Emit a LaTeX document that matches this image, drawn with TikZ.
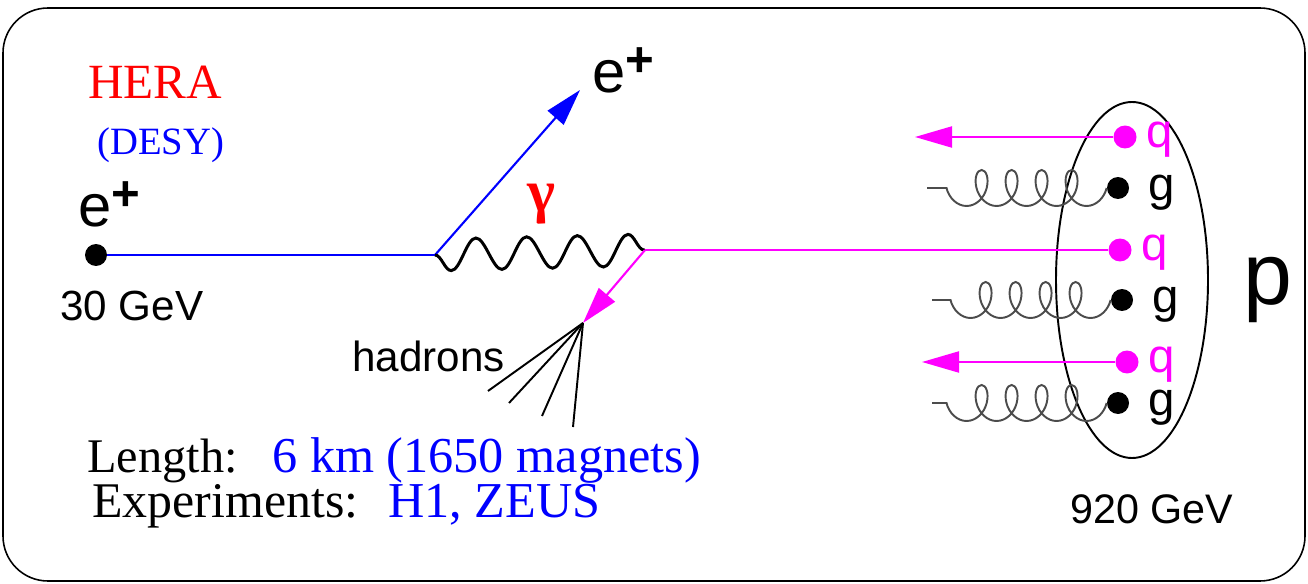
\documentclass[tikz,border=0pt]{standalone}
\usepackage{fontspec}
\setmainfont{Liberation Serif}
\setsansfont{Liberation Sans}
\usetikzlibrary{arrows.meta,decorations.pathmorphing}

\definecolor{quark}{RGB}{255,0,255}
\definecolor{lepton}{RGB}{0,0,255}
\newcommand{\fsz}[1]{\fontsize{#1}{#1}\selectfont}
\newcommand{\eplus}{e\raisebox{9.5pt}{\bfseries\fsz{28}+}}

\tikzset{
  txt/.style={inner sep=0pt, anchor=base west},
  sans/.style={txt, font=\sffamily\fsz{24}},
  parton/.style={inner sep=0pt, anchor=base west, font=\sffamily\fsz{27}},
  dotq/.style={circle, fill=quark, inner sep=0pt, minimum size=0.46cm},
  dotg/.style={circle, fill=black, inner sep=0pt, minimum size=0.44cm},
  bigtip/.style={-{Triangle[length=0.74cm,width=0.42cm]}},
  photon/.style={line width=1.7pt, decorate,
    decoration={snake, amplitude=0.32cm, segment length=1.015cm, mirror}},
  gluon/.style={black!70, line width=1.1pt, decorate,
    decoration={coil, amplitude=0.36cm, segment length=0.6cm, aspect=0.7}},
}

\begin{document}
\begin{tikzpicture}[x=0.02cm, y=-0.02cm]
  \useasboundingbox (0,0) rectangle (1308,584);
  \draw[line width=0.9pt, rounded corners=0.9cm] (3,8) rectangle (1305,581);

  % accelerator name
  \node[txt, red, font=\fsz{28}] (hera) at (88,99) {HERA};
  \node[txt, lepton, font=\fsz{22}] (desy) at (97,155) {(DESY)};

  % positron side
  \node[dotg] (ein) at (96,255) {};
  \node[sans, font=\sffamily\fsz{34}] (einlbl) at (78,227) {\eplus};
  \node[sans] (eE) at (60,320) {30 GeV};
  \coordinate (v1) at (435,255);
  \coordinate (v2) at (645,250);
  \coordinate (eout) at (580,90);
  \coordinate (hv) at (583,323);
  \draw[lepton, line width=1.2pt] (ein) -- (v1);
  \draw[lepton, line width=1.2pt, bigtip] (v1) -- (eout);
  \node[sans, font=\sffamily\fsz{34}] (eoutlbl) at (592,93) {\eplus};
  \draw[photon] (v1) -- (v2);
  \node[txt, red, font=\bfseries\fsz{34}] (gam) at (527,212) {γ};

  % proton
  \draw[line width=1.1pt] (1132,280) ellipse [x radius=76, y radius=178];
  \node[dotq] (q1) at (1125,137) {};
  \node[dotg] (g1) at (1118,188) {};
  \node[dotq] (q2) at (1120,250) {};
  \node[dotg] (g2) at (1122,300) {};
  \node[dotq] (q3) at (1127,362) {};
  \node[dotg] (g3) at (1118,403) {};
  \foreach \p in {q1,q2,q3}
    \node[parton, quark] at ([xshift=0.42cm, yshift=-0.22cm]\p.center) {q};
  \foreach \p in {g1,g2,g3}
    \node[parton] at ([xshift=0.6cm, yshift=-0.26cm]\p.center) {g};
  \coordinate (q1tip) at (915,137);
  \coordinate (q3tip) at (922,362);
  \coordinate (g1end) at (927,188);
  \coordinate (g2end) at (932,300);
  \coordinate (g3end) at (932,403);
  \draw[quark, line width=1.2pt, bigtip] (q1) -- (q1tip);
  \draw[quark, line width=1.2pt, bigtip] (q3) -- (q3tip);
  \draw[gluon] (g1) -- (g1end);
  \draw[gluon] (g2) -- (g2end);
  \draw[gluon] (g3) -- (g3end);
  \node[txt, font=\sffamily\fsz{50}] (plbl) at (1243,304) {p};
  \node[sans, font=\sffamily\fsz{23.5}] (pE) at (1070,523) {920 GeV};

  % struck quark and hadrons
  \draw[quark, line width=1.2pt] (v2) -- (q2);
  \draw[quark, line width=1.2pt, bigtip] (v2) -- (hv);
  \foreach \n/\x/\y in {1/488/391, 2/509/403, 3/542/416, 4/573/427}{
    \coordinate (h\n) at (\x,\y);
    \draw[line width=1.1pt] (hv) -- (h\n);
  }
  \node[sans] (had) at (352,371) {hadrons};

  % facts
  \node[txt, font=\fsz{27.5}] (len) at (87,472) {Length:};
  \node[txt, lepton, font=\fsz{28.6}] (lenv) at (272,472) {6 km (1650 magnets)};
  \node[txt, font=\fsz{28.4}] (expt) at (92,517) {Experiments:};
  \node[txt, lepton, font=\fsz{28.6}] (exptv) at (388,517) {H1, ZEUS};
\end{tikzpicture}
\end{document}
